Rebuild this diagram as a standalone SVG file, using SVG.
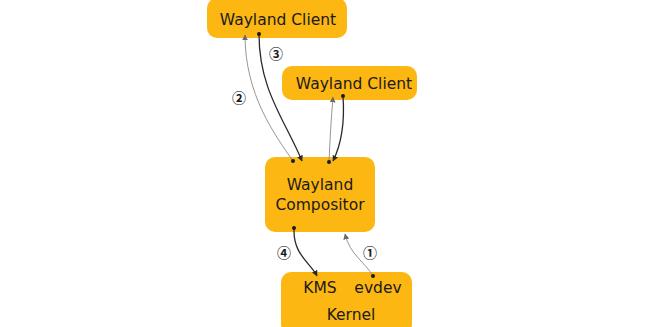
<svg xmlns="http://www.w3.org/2000/svg" width="670" height="327" viewBox="0 0 670 327">
<defs>
<style>
.box{fill:#fcb712}
.t{font-family:"DejaVu Sans",Verdana,sans-serif;font-size:15.5px;fill:#1a1a1a;text-anchor:middle}
.n{font-family:"Noto Sans CJK SC","DejaVu Sans",sans-serif;font-size:14px;font-weight:bold;fill:#1a1a1a;text-anchor:middle}
.dk{fill:none;stroke:#2a2a2a;stroke-width:1.3}
.gr{fill:none;stroke:#8a8a8a;stroke-width:0.9}
</style>
<marker id="ad" viewBox="0 0 10 10" refX="9" refY="5" markerWidth="6" markerHeight="6" markerUnits="userSpaceOnUse" orient="auto">
<path d="M0,0 L10,5 L0,10 Z" fill="#2a2a2a"/>
</marker>
<marker id="ag" viewBox="0 0 10 10" refX="9" refY="5" markerWidth="6" markerHeight="6" markerUnits="userSpaceOnUse" orient="auto">
<path d="M0,0 L10,5 L0,10 Z" fill="#6a6a6a"/>
</marker>
<marker id="dd" viewBox="0 0 10 10" refX="5" refY="5" markerWidth="4" markerHeight="4" markerUnits="userSpaceOnUse">
<circle cx="5" cy="5" r="5" fill="#1a1a1a"/>
</marker>
</defs>
<g id="client1">
<rect class="box" x="207" y="-2" width="140" height="40" rx="10"/>
<text class="t" x="278" y="25">Wayland Client</text>
</g>
<g id="client2">
<rect class="box" x="282" y="66" width="135" height="34" rx="10"/>
<text class="t" x="354" y="89">Wayland Client</text>
</g>
<g id="compositor">
<rect class="box" x="265" y="157" width="110" height="75" rx="10"/>
<text class="t" x="320" y="190">Wayland</text>
<text class="t" x="320" y="210">Compositor</text>
</g>
<g id="kernel">
<rect class="box" x="281" y="272" width="131" height="62" rx="10"/>
<text class="t" x="320" y="293">KMS</text>
<text class="t" x="378" y="293">evdev</text>
<text class="t" x="351" y="320">Kernel</text>
</g>
<g id="connectors">
<path class="gr" d="M293,161 C275,135 245,95 245,35" marker-start="url(#dd)" marker-end="url(#ag)"/>
<path class="dk" d="M259,34 C259,90 285,120 302,161" marker-start="url(#dd)" marker-end="url(#ad)"/>
<path class="gr" d="M329,162 C330,140 331,120 333,97" marker-start="url(#dd)" marker-end="url(#ag)"/>
<path class="dk" d="M343,96 C345,125 341,145 333,161" marker-start="url(#dd)" marker-end="url(#ad)"/>
<path class="dk" d="M294,228 C293,255 310,262 317,276" marker-start="url(#dd)" marker-end="url(#ad)"/>
<path class="gr" d="M373,276 C365,262 350,255 345,234" marker-start="url(#dd)" marker-end="url(#ag)"/>
</g>
<g id="labels">
<text class="n" x="276" y="59">③</text>
<text class="n" x="239" y="103">②</text>
<text class="n" x="284" y="258">④</text>
<text class="n" x="370" y="258">①</text>
</g>
</svg>
